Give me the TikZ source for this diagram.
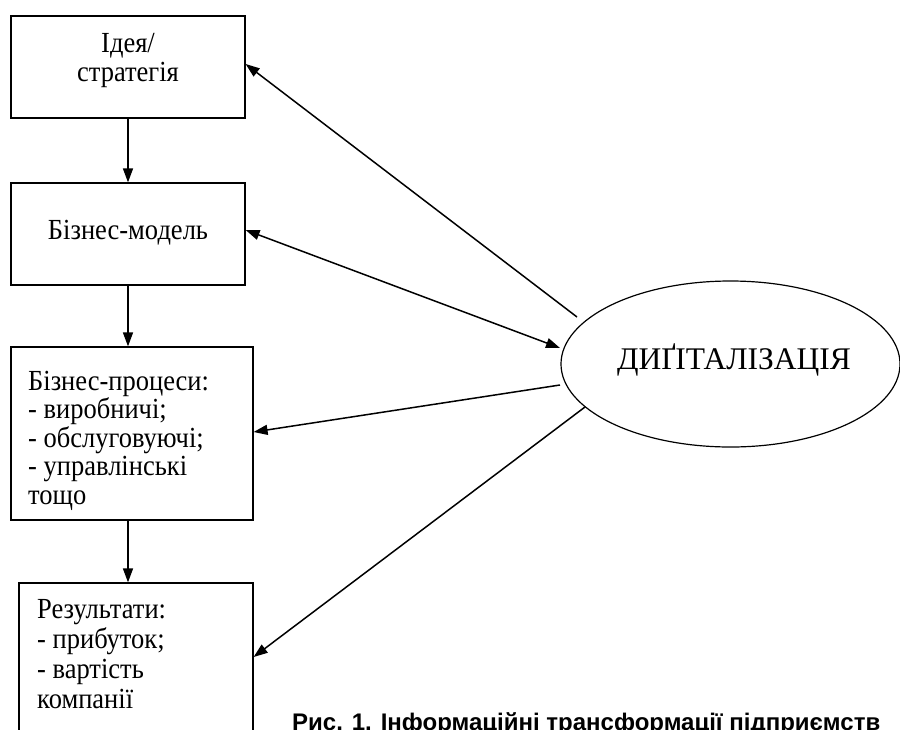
\documentclass[tikz,border=0pt]{standalone}
\usepackage{fontspec}
\setmainfont{Liberation Serif}
\newfontfamily\capfont{Liberation Sans}
\usetikzlibrary{arrows.meta,shapes.geometric}
\newcommand{\tallT}[1]{\scalebox{1}[1.1]{#1}}
\begin{document}
\begin{tikzpicture}[x=1pt,y=-1pt,
  box/.style={draw,line width=1.2pt,minimum width=#1,inner sep=0pt,rectangle},
  txt/.style={inner sep=0pt,font=\fontsize{26.5}{29}\selectfont},
  conn/.style={line width=1.5pt,-{Triangle[length=14pt,width=10pt]}},
  dconn/.style={line width=1.5pt,{Triangle[length=14pt,width=10pt]}-{Triangle[length=14pt,width=10pt]}}]
\useasboundingbox (0,0) rectangle (900,729);
\clip (0,0) rectangle (900,729);
% boxes
\node[box=234pt,minimum height=102pt] (b1) at (128,67) {};
\node[box=234pt,minimum height=102pt] (b2) at (128,234) {};
\node[box=242pt,minimum height=173pt] (b3) at (132,433.5) {};
\node[box=234pt,minimum height=180pt] (b4) at (136,673) {};
% texts
\node[txt,anchor=base] (t1a) at (128,52) {\tallT{Ідея/}};
\node[txt,anchor=base] (t1b) at (128,81) {\tallT{стратегія}};
\node[txt,anchor=base] (t2) at (128,239) {\tallT{Бізнес-модель}};
\foreach \t [count=\i] in {Бізнес-процеси:,- виробничі;,- обслуговуючі;,- управлінські,тощо}
  \node[txt,anchor=base west] (t3\i) at (28,{390+28.6*(\i-1)}) {\tallT{\t}};
\foreach \t [count=\i] in {Результати:,- прибуток;,- вартість,компанії}
  \node[txt,anchor=base west] (t4\i) at (37,{618+30*(\i-1)}) {\tallT{\t}};
% ellipse
\node[draw,ellipse,line width=1.2pt,minimum width=339pt,minimum height=166pt,inner sep=0pt] (e) at (730.5,364) {};
\node[inner sep=0pt,anchor=base,font=\fontsize{31.5}{36}\selectfont] (et) at (734,369) {ДИҐІТАЛІЗАЦІЯ};
% caption
\node[inner sep=0pt,anchor=base west,font=\capfont\bfseries\fontsize{24}{26}\selectfont] (cap) at (292,730) {Рис. 1. Інформаційні трансформації підприємств};
% vertical arrows
\draw[conn] (b1.south) -- (b2.north);
\draw[conn] (b2.south) -- (b2.south |- b3.north);
\draw[conn] (b2.south |- b3.south) -- (b2.south |- b4.north);
% coordinates
\coordinate (s1) at (577,317);
\coordinate (s2) at (560,348);
\coordinate (s3) at (560,385);
\coordinate (s4) at (585,407);
\draw[conn] (s1) -- (b1.east |- 0,64);
\draw[dconn] (b2.east |- 0,230) -- (s2);
\draw[conn] (s3) -- (b3.east |- 0,432);
\draw[conn] (s4) -- (b4.east |- 0,657);
\end{tikzpicture}
\end{document}
